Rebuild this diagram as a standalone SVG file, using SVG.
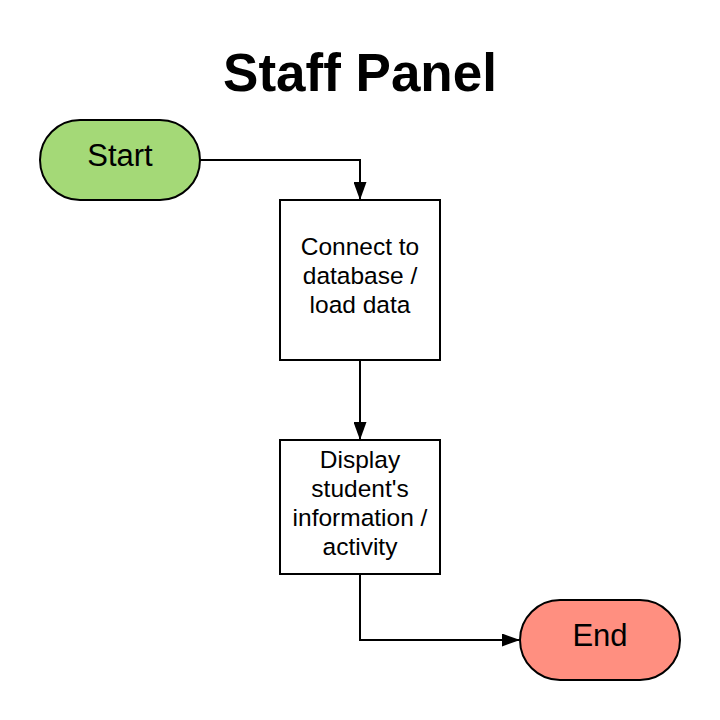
<svg xmlns="http://www.w3.org/2000/svg" width="720" height="720" viewBox="0 0 720 720">
<style>
.t{font-family:"Liberation Sans",Arial,sans-serif;fill:#000;text-anchor:middle}
.box{fill:#fff;stroke:#000;stroke-width:2}
.line{fill:none;stroke:#000;stroke-width:2}
</style>
<defs>
<marker id="arr" markerWidth="18" markerHeight="13" refX="17" refY="6.5" orient="auto" markerUnits="userSpaceOnUse">
<path d="M0,0 L18,6.5 L0,13 Z" fill="#000"/>
</marker>
</defs>
<rect width="720" height="720" fill="#fff"/>
<text class="t" x="360" y="91" font-size="53" font-weight="bold">Staff Panel</text>
<g id="connectors">
<path class="line" d="M200,160 H360 V199" marker-end="url(#arr)"/>
<path class="line" d="M360,360 V439" marker-end="url(#arr)"/>
<path class="line" d="M360,574 V640 H519" marker-end="url(#arr)"/>
</g>
<g id="start">
<rect x="40" y="120" width="160" height="80" rx="40" fill="#a4d977" stroke="#000" stroke-width="2"/>
<text class="t" x="120" y="166" font-size="31">Start</text>
</g>
<g id="connect">
<rect class="box" x="280" y="200" width="160" height="160"/>
<text class="t" font-size="24.5"><tspan x="360" y="255">Connect to</tspan><tspan x="360" y="284">database /</tspan><tspan x="360" y="313">load data</tspan></text>
</g>
<g id="display">
<rect class="box" x="280" y="440" width="160" height="134"/>
<text class="t" font-size="24.5"><tspan x="360" y="468">Display</tspan><tspan x="360" y="497">student's</tspan><tspan x="360" y="526">information /</tspan><tspan x="360" y="555">activity</tspan></text>
</g>
<g id="end">
<rect x="520" y="600" width="160" height="80" rx="40" fill="#ff8f80" stroke="#000" stroke-width="2"/>
<text class="t" x="600" y="646" font-size="31">End</text>
</g>
</svg>
